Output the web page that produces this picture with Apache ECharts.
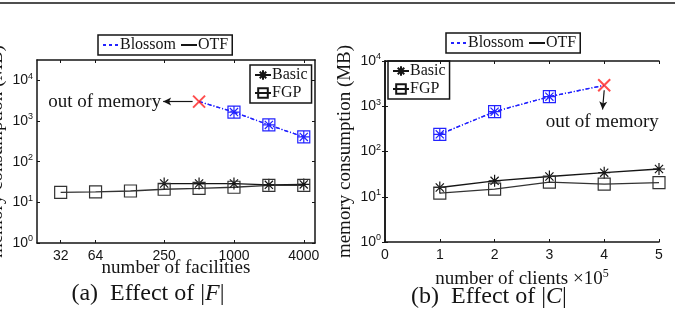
<!DOCTYPE html>
<html>
<head>
<meta charset="utf-8" />
<title>Memory consumption</title>
<script src="https://cdn.jsdelivr.net/npm/echarts@6/dist/echarts.min.js"></script>
</head>
<body style="margin:0">
<div id="chart" style="width:675px;height:315px"></div>
<script type="text/javascript">
// (a) effect of |F|
var facilities = [32, 64, 128, 250, 500, 1000, 2000, 4000];
var facTicks = [32, 64, 250, 1000, 4000];
var otfBasicF = [null, null, null, 29, 29, 29, 27, 27.5];
var otfFgpF = [17.6, 18, 19, 21, 22, 23.5, 26, 26];
var blossomBasicF = [null, null, null, null, 3000, 1660, 800, 405];
var blossomFgpF = [null, null, null, null, 3000, 1660, 800, 405];
var oomF = 4; // Blossom runs out of memory here

// (b) effect of |C|
var clients = [1, 2, 3, 4, 5];
var otfBasicC = [16, 22.5, 28, 34, 41];
var otfFgpC = [12, 14.8, 21, 19, 20.6];
var blossomBasicC = [240, 760, 1630, 2900, null];
var blossomFgpC = [240, 760, 1630, 2900, null];
var oomC = 3;

var yTicks = [1, 10, 100, 1000, 10000];

var serif = 'Liberation Serif', sans = 'Liberation Sans';
var ink = '#151515', blue = '#2323ff';
var STAR = 'path://M0,5L10,5M5,0L5,10M1.6,1.6L8.4,8.4M8.4,1.6L1.6,8.4';
var SQUARE = 'path://M0,0L10,0L10,10L0,10Z';
var CROSS = 'path://M0,0L10,10M10,0L0,10';

function pairs(xs, ys, oom) {
  var out = [];
  xs.forEach(function (x, i) {
    if (ys[i] == null) return;
    out.push(i === oom ? { value: [x, ys[i]], symbol: 'none' } : [x, ys[i]]);
  });
  return out;
}

function line(name, gi, data, sym, color, dashed) {
  return {
    name: name, type: 'line', xAxisIndex: gi * 2, yAxisIndex: gi * 2,
    data: data, symbol: sym, symbolSize: 12,
    lineStyle: { color: color, width: 1.3, type: dashed ? [4, 2, 1, 2] : 'solid' },
    itemStyle: { color: 'transparent', borderColor: color, borderWidth: 1.2 },
    z: dashed ? 3 : 2
  };
}

function oomSeries(gi, x, y, from, to, labelCfg) {
  return {
    type: 'scatter', xAxisIndex: gi * 2, yAxisIndex: gi * 2,
    data: [[x, y]], symbol: CROSS, symbolSize: 12,
    itemStyle: { color: 'transparent', borderColor: '#ff2020', borderWidth: 2 },
    z: 5,
    markLine: {
      silent: true, symbol: ['none', 'arrow'], symbolSize: [6, 8],
      lineStyle: { color: ink, width: 1.2, type: 'solid' },
      label: Object.assign({ show: true, position: 'end', formatter: 'out of memory',
        fontFamily: serif, fontSize: 19, color: ink }, labelCfg),
      data: [[{ coord: from }, { coord: to }]]
    }
  };
}

var supFmt = function (v) { return '10{s|' + Math.round(Math.log10(v)) + '}'; };
var tickRich = { s: { fontFamily: sans, fontSize: 9, color: ink, verticalAlign: 'top', padding: [0, 0, 8, 0] } };

function yAx(gi, pos, show, max, gap) {
  return {
    type: 'log', logBase: 10, gridIndex: gi, position: pos, min: 1, max: max,
    axisLine: { show: true, lineStyle: { color: ink, width: 1.5 } },
    axisTick: { show: true, inside: true, length: 3, customValues: yTicks, lineStyle: { color: ink } },
    axisLabel: { show: show, customValues: yTicks, formatter: supFmt, margin: 4,
      fontFamily: sans, fontSize: 14, color: ink, rich: tickRich },
    splitLine: { show: false },
    name: show ? 'memory consumption (MB)' : '', nameLocation: 'middle', nameGap: gap,
    nameMoveOverlap: false,
    nameTextStyle: { fontFamily: serif, fontSize: 19, color: ink }
  };
}

function xAxF(pos, show) {
  return {
    type: 'log', logBase: 2, gridIndex: 0, position: pos, min: 20, max: 5000,
    axisLine: { show: true, lineStyle: { color: ink, width: 1.5 } },
    axisTick: { show: true, inside: true, length: 3, customValues: facTicks, lineStyle: { color: ink } },
    axisLabel: { show: show, customValues: facTicks, margin: 6,
      formatter: function (v) { return String(Math.round(v)); },
      fontFamily: sans, fontSize: 14, color: ink },
    splitLine: { show: false },
    name: show ? 'number of facilities' : '', nameLocation: 'middle', nameGap: 16,
    nameMoveOverlap: false,
    nameTextStyle: { fontFamily: serif, fontSize: 19, color: ink }
  };
}

function xAxC(pos, show) {
  return {
    type: 'value', gridIndex: 1, position: pos, min: 0, max: 5, interval: 1,
    axisLine: { show: true, lineStyle: { color: ink, width: 1.5 } },
    axisTick: { show: true, inside: true, length: 3, lineStyle: { color: ink } },
    axisLabel: { show: show, margin: 6, fontFamily: sans, fontSize: 14, color: ink },
    splitLine: { show: false },
    name: show ? 'number of clients \u00d710{s|5}' : '', nameLocation: 'middle', nameGap: 26,
    nameMoveOverlap: false,
    nameTextStyle: { fontFamily: serif, fontSize: 19, color: ink,
      rich: { s: { fontFamily: serif, fontSize: 12, color: ink, verticalAlign: 'top', padding: [0, 0, 10, 0] } } }
  };
}

var legendText = { fontFamily: serif, fontSize: 16, color: ink };
function legendBox(names, left, top, orient) {
  return {
    data: names, left: left, top: top, orient: orient, selectedMode: false,
    borderColor: ink, borderWidth: 1.5, borderRadius: 0, padding: [2, 4],
    itemGap: orient === 'vertical' ? 2 : 4, itemWidth: 16, itemHeight: 12,
    textStyle: Object.assign({ padding: [0, 0, 0, -4] }, legendText)
  };
}

var chart = echarts.init(document.getElementById('chart'));
chart.setOption({
  animation: false,
  grid: [
    { left: 37, top: 60, width: 278, height: 183, outerBoundsMode: 'none' },
    { left: 385, top: 61, width: 274, height: 181, outerBoundsMode: 'none' }
  ],
  xAxis: [xAxF('bottom', true), xAxF('top', false), xAxC('bottom', true), xAxC('top', false)],
  yAxis: [yAx(0, 'left', true, 31623, 30), yAx(0, 'right', false, 31623, 0),
          yAx(1, 'left', true, 10000, 30), yAx(1, 'right', false, 10000, 0)],
  legend: [
    legendBox(['Blossom', 'OTF'], 98, 35, 'horizontal'),
    legendBox(['Blossom', 'OTF'], 446, 33, 'horizontal'),
    legendBox(['Basic', 'FGP'], 250, 65, 'vertical'),
    legendBox(['Basic', 'FGP'], 388, 61, 'vertical')
  ],
  series: [
    // legend-only entries
    { name: 'Blossom', type: 'line', data: [], symbol: 'none',
      lineStyle: { color: blue, width: 1.3, type: [3, 3] }, itemStyle: { color: 'transparent', borderWidth: 0 } },
    { name: 'OTF', type: 'line', data: [], symbol: 'none',
      lineStyle: { color: ink, width: 1.5 }, itemStyle: { color: 'transparent', borderWidth: 0 } },
    line('Basic', 0, [], STAR, ink, false),
    line('FGP', 0, [], SQUARE, ink, false),
    // (a)
    line('OTF Basic', 0, pairs(facilities, otfBasicF), STAR, ink, false),
    line('OTF FGP', 0, pairs(facilities, otfFgpF), SQUARE, '#333', false),
    line('Blossom Basic', 0, pairs(facilities, blossomBasicF, oomF), STAR, blue, true),
    line('Blossom FGP', 0, pairs(facilities, blossomFgpF, oomF), SQUARE, blue, true),
    oomSeries(0, facilities[oomF], blossomBasicF[oomF], [440, 3000], [245, 3000], { distance: 2 }),
    // (b)
    line('OTF Basic', 1, pairs(clients, otfBasicC), STAR, ink, false),
    line('OTF FGP', 1, pairs(clients, otfFgpC), SQUARE, '#333', false),
    line('Blossom Basic', 1, pairs(clients, blossomBasicC, oomC), STAR, blue, true),
    line('Blossom FGP', 1, pairs(clients, blossomFgpC, oomC), SQUARE, blue, true),
    oomSeries(1, clients[oomC], blossomBasicC[oomC], [4, 2250], [3.97, 850], { distance: 3 })
  ],
  graphic: [
    { type: 'line', shape: { x1: 0, y1: 3, x2: 675, y2: 3 }, style: { stroke: ink, lineWidth: 1.5 } },
    { type: 'text', x: 148, y: 294, style: { text: '(a)  Effect of |{i|F}|', align: 'center', verticalAlign: 'middle',
      fontFamily: serif, fontSize: 24, fill: ink, rich: { i: { fontFamily: serif, fontSize: 24, fontStyle: 'italic', fill: ink } } } },
    { type: 'text', x: 489, y: 297, style: { text: '(b)  Effect of |{i|C}|', align: 'center', verticalAlign: 'middle',
      fontFamily: serif, fontSize: 24, fill: ink, rich: { i: { fontFamily: serif, fontSize: 24, fontStyle: 'italic', fill: ink } } } }
  ]
});
</script>
</body>
</html>
